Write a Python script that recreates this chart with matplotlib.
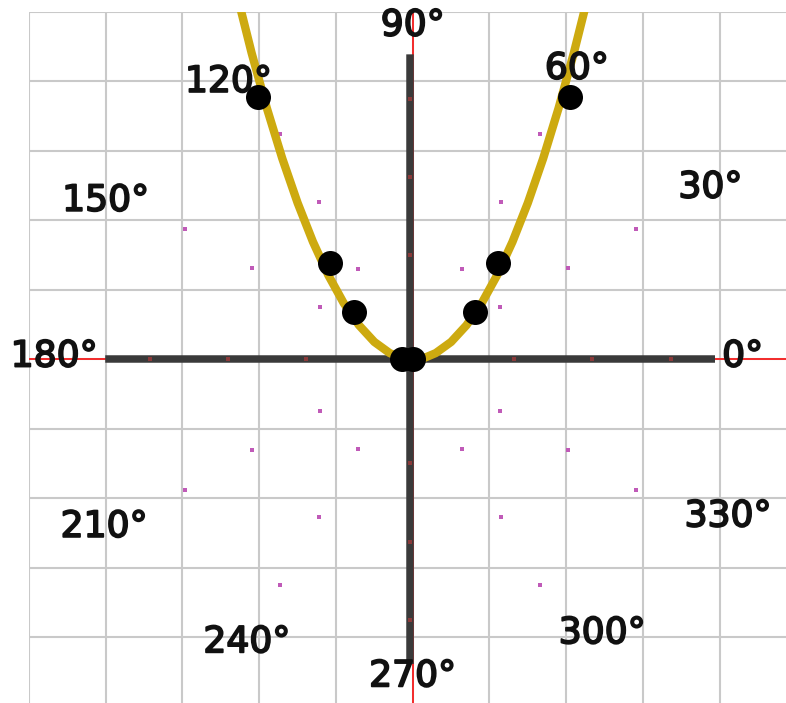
import numpy as np
import matplotlib
matplotlib.use('Agg')
from matplotlib import pyplot as plt
from matplotlib import patheffects as pe

# Parabola (x, y in the grid's units).
curve_x = [-2.3, -2.1, -1.9, -1.7, -1.5, -1.3, -1.1, -0.9, -0.7, -0.5, -0.3, -0.15, 0.0,
           0.15, 0.3, 0.5, 0.7, 0.9, 1.1, 1.3, 1.5, 1.7, 1.9, 2.1, 2.3]
curve_y = [5.29, 4.41, 3.61, 2.89, 2.25, 1.69, 1.21, 0.81, 0.49, 0.25, 0.09, 0.02, 0.0,
           0.02, 0.09, 0.25, 0.49, 0.81, 1.21, 1.69, 2.25, 2.89, 3.61, 4.41, 5.29]

# Black points.
pts_x = [-2.02, -1.08, -0.77, -0.14, 0.0, 0.81, 1.11, 2.05]
pts_y = [3.78, 1.38, 0.68, 0.0, 0.0, 0.68, 1.38, 3.78]

# Polar overlay: rings and angles.
ring_r = [1.33, 2.33, 3.33]
r_max = 3.9
spoke_deg = [0, 90, 180, 270]
dot_deg = [30, 60, 120, 150, 210, 240, 300, 330]

# Angle labels and where they sit (grid units).
angle_labels = ['0°', '30°', '60°', '90°', '120°', '150°',
                '180°', '210°', '240°', '270°', '300°', '330°']
label_x = [4.30, 3.88, 2.14, 0.0, -2.40, -4.00, -4.67, -4.02, -2.16, 0.0, 2.47, 4.11]
label_y = [0.04, 2.47, 4.18, 4.80, 3.99, 2.28, 0.04, -2.41, -4.07, -4.56, -3.94, -2.26]

W, H = 786, 703
fig = plt.figure(figsize=(W / 100, H / 100), dpi=100)

# Cartesian grid
left, top = 29 / W, 11.7 / H
ax = fig.add_axes([left, 0, 1 - left, 1 - top])
ax.set_xlim(-5, 4.864)
ax.set_ylim(-4.943, 5)
ax.set_xticks(np.arange(-5, 5))
ax.set_yticks(np.arange(-4, 6))
ax.grid(True, color='#c9c9c9', lw=1.5)
ax.set_axisbelow(True)
ax.tick_params(length=0, labelbottom=False, labelleft=False)
for s in ax.spines.values():
    s.set_visible(False)
ax.axhline(0, color='red', lw=1.1, zorder=1)
ax.axvline(0, color='red', lw=1.1, zorder=1)

# polar overlay, centred (almost) on the origin
cx, cy = fig.transFigure.inverted().transform(ax.transData.transform((0, 0)))
cx -= 2.5 / W
R = 305
pax = fig.add_axes([cx - R / W, cy - R / H, 2 * R / W, 2 * R / H], projection='polar')
pax.set_facecolor('none')
pax.set_ylim(0, r_max)
pax.grid(False)
pax.set_xticks([])
pax.set_yticks([])
pax.spines['polar'].set_visible(False)
for d in spoke_deg:
    t = np.deg2rad(d)
    pax.plot([t, t], [0, r_max], color='#3a3a3a', lw=5.4, solid_capstyle='butt', zorder=2)
    for r in ring_r:
        pax.plot(t, r, marker='s', ms=3, color='#8a3a3a', mew=0, zorder=3)
for d in dot_deg:
    t = np.deg2rad(d)
    for r in ring_r:
        pax.plot(t, r, marker='s', ms=3.2, color='#c05ab8', mew=0, zorder=3)

# parabola and points on top
top_ax = fig.add_axes(ax.get_position(), sharex=ax, sharey=ax)
top_ax.set_facecolor('none')
top_ax.axis('off')
top_ax.plot(curve_x, curve_y, color='#cdaa10', lw=6, solid_capstyle='round', zorder=4)
top_ax.plot(pts_x, pts_y, 'o', color='black', ms=18, mew=0, zorder=5)

# labels a bit heavier, like the blurry original
heavy = [pe.withStroke(linewidth=1.3, foreground='#111111')]
for txt, x, y in zip(angle_labels, label_x, label_y):
    top_ax.text(x, y, txt, ha='center', va='center', fontsize=26,
                family='DejaVu Sans', color='#111111', clip_on=False, zorder=6,
                path_effects=heavy)

fig.savefig('out.png', dpi=100)
